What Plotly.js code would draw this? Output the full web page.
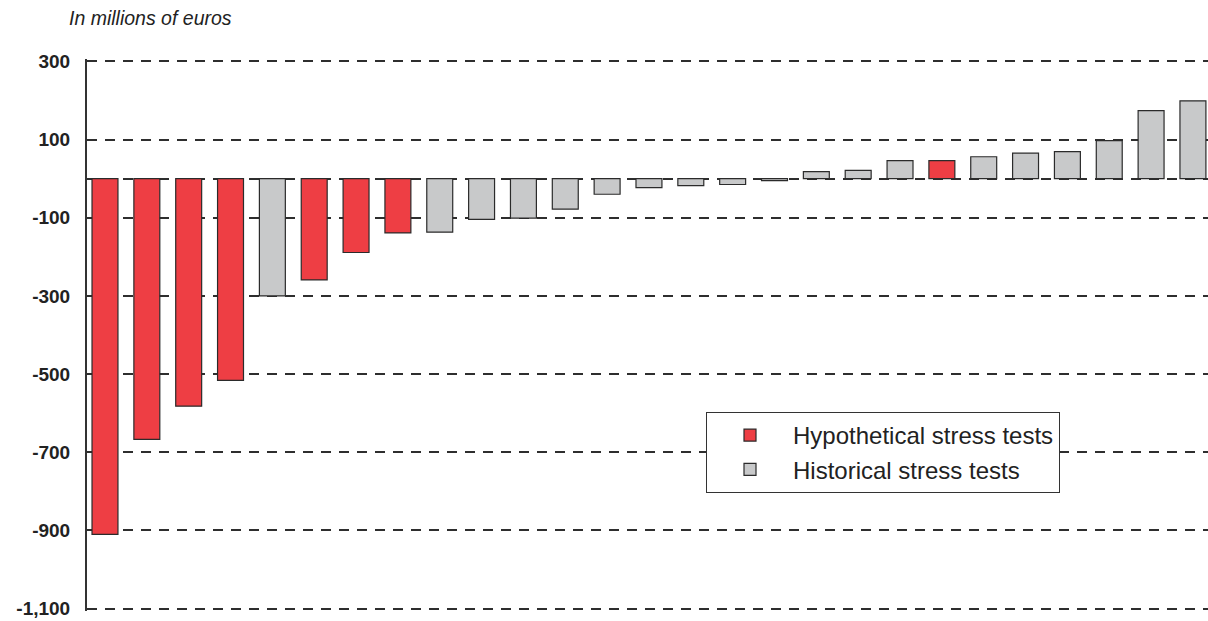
<!DOCTYPE html>
<html>
<head>
<meta charset="utf-8">
<script src="https://cdn.plot.ly/plotly-3.0.1.min.js"></script>
<style>html,body{margin:0;padding:0;background:#fff;}#chart{width:1208px;height:621px;}</style>
</head>
<body>
<div id="chart"></div>
<script>
// Stress test results, in millions of euros, ordered as in the chart
const testIndex = [1,2,3,4,5,6,7,8,9,10,11,12,13,14,15,16,17,18,19,20,21,22,23,24,25,26,27];
const testValues = [-910,-667,-582,-516,-300,-259,-189,-139,-137,-104,-101,-78,-40,-23,-18,-15,-5,18,21,46,46,56,65,69,97,174,199];
const testType = ['Hyp','Hyp','Hyp','Hyp','Hist','Hyp','Hyp','Hyp','Hist','Hist','Hist','Hist','Hist','Hist','Hist','Hist','Hist','Hist','Hist','Hist','Hyp','Hist','Hist','Hist','Hist','Hist','Hist'];
const seriesNames = {Hyp: 'Hypothetical stress tests', Hist: 'Historical stress tests'};
const tickValues = [300,100,0,-100,-300,-500,-700,-900,-1100];
const tickLabels = ['300','100','','-100','-300','-500','-700','-900','-1,100'];

const colors = {Hyp: '#EE3E44', Hist: '#C8C9CA'};

function makeTrace(kind) {
  const xs = [], ys = [];
  testIndex.forEach((idx, i) => {
    if (testType[i] === kind) { xs.push(idx); ys.push(testValues[i]); }
  });
  return {
    type: 'bar', name: seriesNames[kind], x: xs, y: ys, width: 0.62,
    marker: {color: colors[kind], line: {color: '#2b2b2b', width: 1.2}},
    hoverinfo: 'x+y'
  };
}

const data = [makeTrace('Hyp'), makeTrace('Hist')];

const layout = {
  width: 1208, height: 621,
  margin: {l: 87, r: 0, t: 59, b: 10, pad: 0},
  paper_bgcolor: '#ffffff', plot_bgcolor: '#ffffff',
  barmode: 'overlay',
  font: {family: '"Liberation Sans", Arial, sans-serif', color: '#222'},
  title: {
    text: 'In millions of euros', xref: 'container', yref: 'container',
    x: 69/1208, xanchor: 'left', y: 1 - 18/621, yanchor: 'middle',
    font: {size: 19.5, style: 'italic', color: '#222', family: '"Liberation Sans", Arial, sans-serif'}
  },
  xaxis: {
    range: [0.57, 27.36], showgrid: false, zeroline: false, showticklabels: false,
    ticks: '', showline: false, fixedrange: true
  },
  yaxis: {
    range: [-1106, 306], tickmode: 'array', tickvals: tickValues, ticktext: tickLabels,
    showgrid: true, gridcolor: '#2e2e2e', gridwidth: 2, griddash: '10px,8px',
    zeroline: false, showline: true, linecolor: '#333333', linewidth: 2,
    ticks: '', ticklabelstandoff: 11,
    tickfont: {size: 19, weight: 'bold', color: '#222'}, fixedrange: true
  },
  showlegend: true,
  legend: {
    x: (706-87)/1121, xanchor: 'left', y: (611-452.5)/552, yanchor: 'middle',
    bgcolor: '#ffffff', bordercolor: '#333333', borderwidth: 1,
    font: {size: 24, color: '#222'}, itemwidth: 76, tracegroupgap: 0
  }
};

Plotly.newPlot('chart', data, layout, {displayModeBar: false, staticPlot: true});
</script>
</body>
</html>
